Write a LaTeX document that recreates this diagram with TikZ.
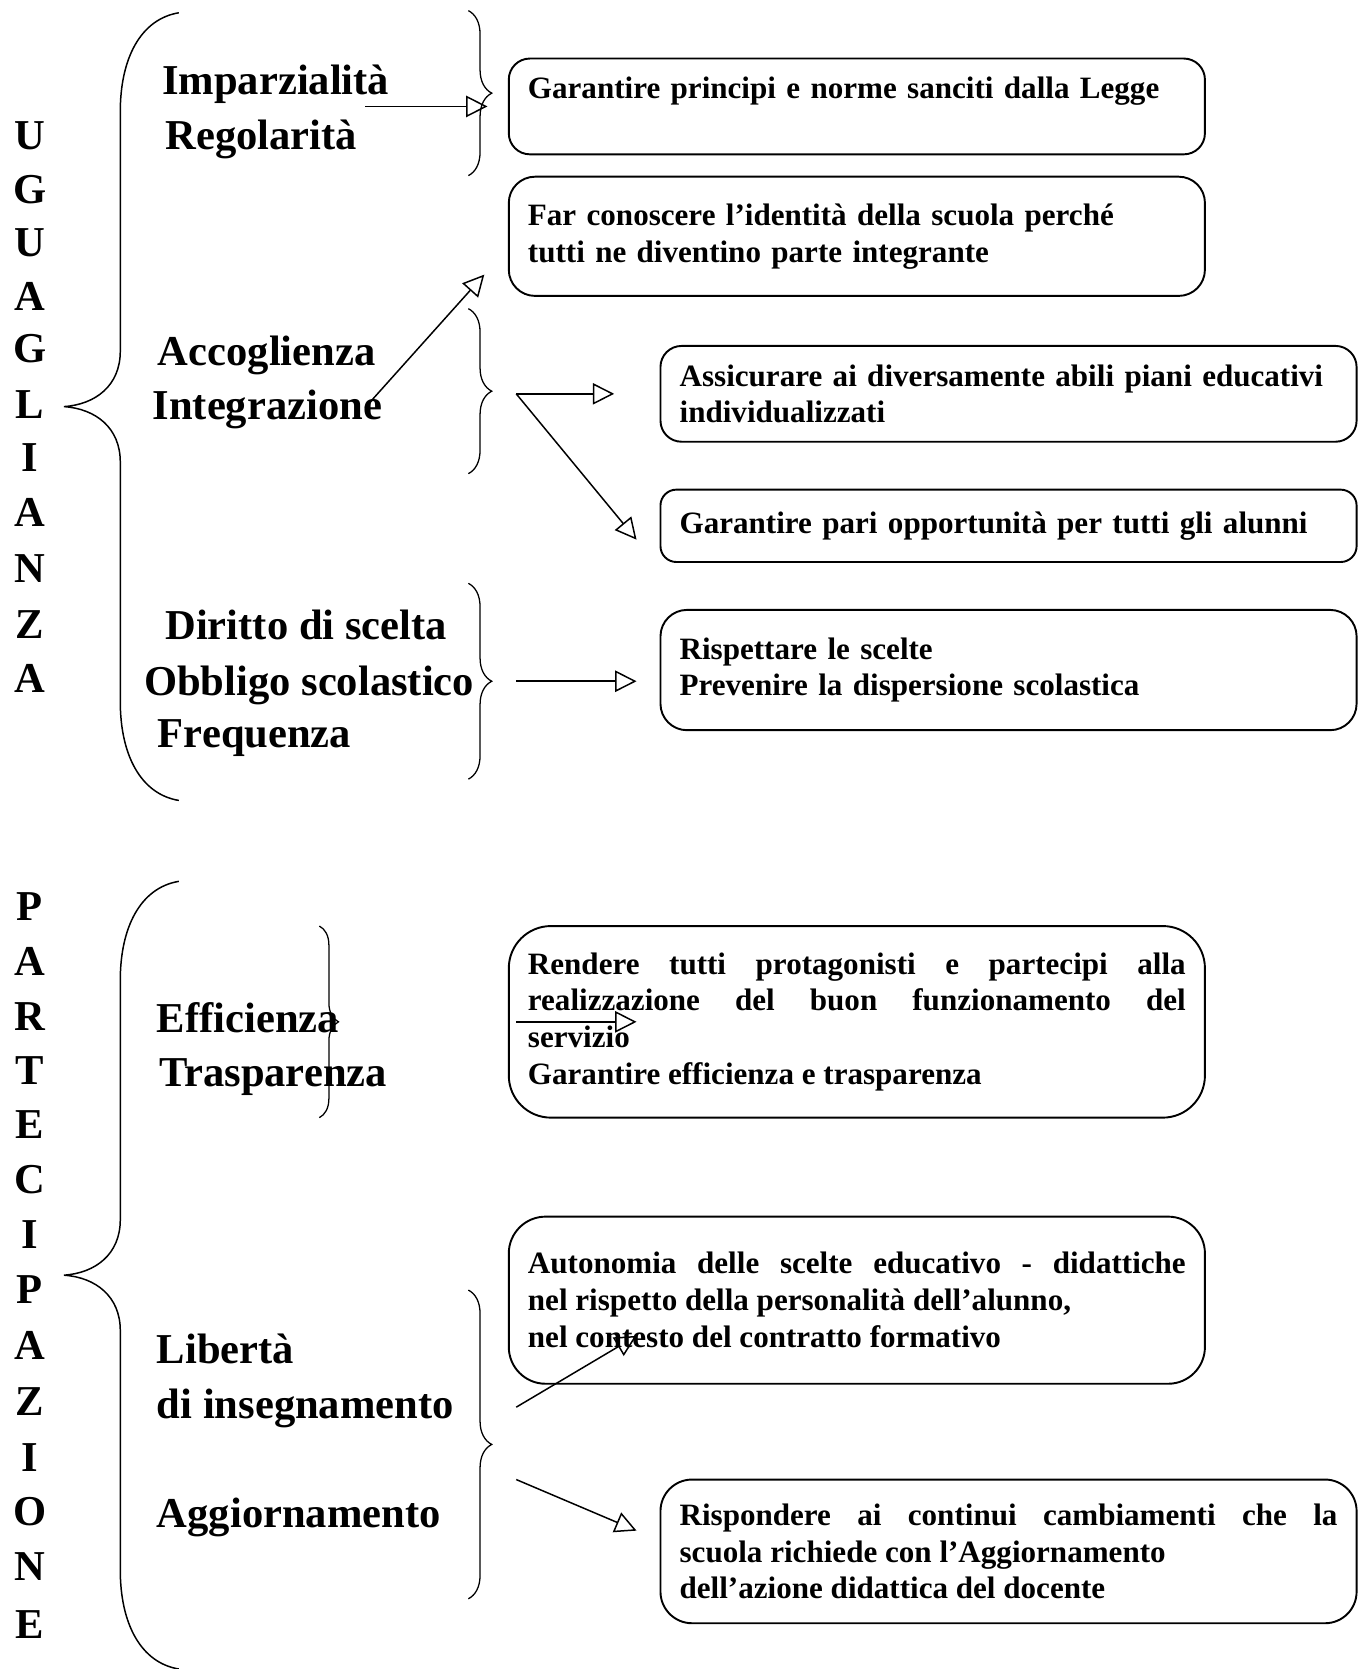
\documentclass[tikz,border=0pt]{standalone}
\usepackage{fontspec}
\setmainfont{Liberation Serif}
\usetikzlibrary{arrows.meta,decorations.pathreplacing}
\hyphenpenalty=10000

\begin{document}
\begin{tikzpicture}[x=0.5pt, y=-0.5pt, >={Triangle[open, length=10pt, width=10pt]},
  vletter/.style={font=\fontsize{20}{24}\selectfont\bfseries, anchor=base, inner sep=0pt},
  item/.style={font=\fontsize{20}{24}\selectfont\bfseries, anchor=base west, inner sep=0pt},
  goal/.style={draw, line width=0.9pt, rounded corners=#1*0.22pt, minimum height=#1*1pt,
    minimum width=327pt, text width=309pt, inner sep=0pt,
    font=\fontsize{14.6}{17.3}\selectfont\bfseries, align=left},
  fullgoal/.style={goal=#1, align=justify},
  link/.style={->, line width=0.7pt},
  smallbrace/.style={decorate, decoration={brace, amplitude=11pt}, line width=0.6pt}]
\useasboundingbox (0,0) rectangle (1284,1568);

% Draw the vertical titles
\foreach \l/\y [count=\i] in {U/127,G/178,U/228,A/279,G/328,L/380,I/430,A/482,N/534,Z/587,A/638}
  \node [vletter] (ugu-\i) at (28,\y+13) {\l};
\foreach \l/\y [count=\i] in {P/852,A/903,R/955,T/1006,E/1057,C/1108,I/1160,
    P/1212,A/1264,Z/1317,I/1369,O/1420,N/1472,E/1526}
  \node [vletter] (par-\i) at (28,\y+13) {\l};

% Draw the big braces
\foreach \o in {0,816}
  \draw [line width=0.7pt] (168,12+\o) .. controls (132,18+\o) and (113,55+\o) .. (113,105+\o)
    -- (113,330+\o) .. controls (113,362+\o) and (90,380+\o) .. (60,382+\o)
    .. controls (90,384+\o) and (113,402+\o) .. (113,434+\o)
    -- (113,659+\o) .. controls (113,709+\o) and (132,746+\o) .. (168,752+\o);

% Label the principles
\foreach \t/\x/\y [count=\i] in {Imparzialità/152/76, Regolarità/155/127, Accoglienza/148/330,
    Integrazione/143/381, Diritto di scelta/155/588, Obbligo scolastico/135/640, Frequenza/148/689}
  \node [item] (ugu-item-\i) at (\x,\y+13) {\t};
\foreach \t/\x/\y [count=\i] in {Efficienza/147/957, Trasparenza/149/1008, Libertà/147/1268,
    di insegnamento/147/1320, Aggiornamento/147/1422}
  \node [item] (par-item-\i) at (\x,\y+13) {\t};

% Draw the small braces
\foreach \ya/\yb in {10/165, 290/445, 548/732, 1212/1502}
  \draw [smallbrace] (440,\ya) -- (440,\yb);
\draw [smallbrace, decoration={amplitude=9pt}] (300,870) -- (300,1050);

% Draw the aims
\node [goal=45] (legge) at (805,100) {Garantire principi e norme sanciti dalla Legge\\\mbox{}};
\node [goal=56] (identita) at (805,222) {Far conoscere l’identità della scuola perché\\tutti ne diventino parte integrante};
\node [goal=45] (piani) at (947.5,370) {\mbox{Assicurare ai diversamente abili piani educativi}\\individualizzati};
\node [goal=34] (pari) at (947.5,494) {Garantire pari opportunità per tutti gli alunni};
\node [goal=56.5] (scelte) at (947.5,629.5) {Rispettare le scelte\\Prevenire la dispersione scolastica};
\node [fullgoal=90] (servizio) at (805,960) {Rendere tutti protagonisti e partecipi alla\linebreak
  realizzazione del buon funzionamento del\linebreak servizio\\Garantire efficienza e trasparenza};
\node [fullgoal=78.5] (autonomia) at (805,1221.5) {Autonomia delle scelte educativo - didattiche\linebreak
  nel rispetto della personalità dell’alunno,\\nel contesto del contratto formativo};
\node [fullgoal=67.5] (cambiamenti) at (947.5,1457.5) {Rispondere ai continui cambiamenti che la\linebreak
  scuola richiede con l’Aggiornamento\\dell’azione didattica del docente};

% Connect the principles with the aims
\foreach \xa/\ya/\xb/\yb [count=\i] in {343/100/458/100, 343/383/455/258, 485/370/577/370,
    485/370/598/507, 485/640/598/640, 485/960/598/960, 485/1322/598/1255, 485/1390/598/1438}
{
  \coordinate (from-\i) at (\xa,\ya);
  \coordinate (to-\i) at (\xb,\yb);
  \draw [link] (from-\i) -- (to-\i);
}
\end{tikzpicture}
\end{document}
